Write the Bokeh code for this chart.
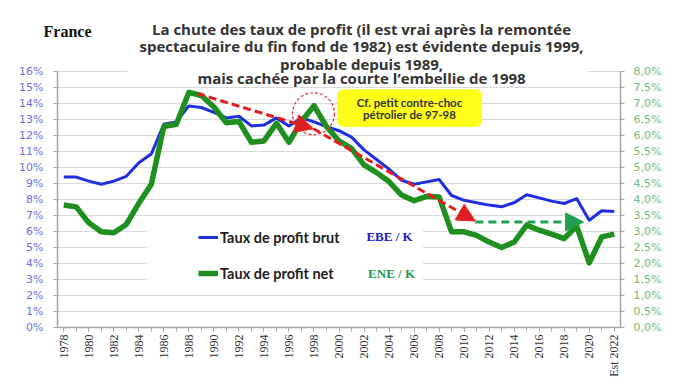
from bokeh.plotting import figure
from bokeh.models import (Range1d, LinearAxis, FixedTicker, CustomJSTickFormatter, Label,
                          Arrow, NormalHead, BoxAnnotation, Legend, LegendItem)
from bokeh.embed import file_html
from bokeh.resources import INLINE

years = list(range(1978, 2023))
brut = [9.4, 9.4, 9.15, 8.95, 9.15, 9.45, 10.3, 10.85, 12.7, 12.85,
        13.85, 13.75, 13.45, 13.1, 13.2, 12.6, 12.65, 13.1, 12.6, 13.1,
        12.85, 12.55, 12.3, 11.9, 11.1, 10.5, 9.9, 9.2, 8.95, 9.1,
        9.25, 8.25, 7.95, 7.8, 7.65, 7.55, 7.8, 8.3, 8.1, 7.9,
        7.75, 8.05, 6.7, 7.3, 7.25]
net = [3.83, 3.77, 3.27, 2.99, 2.96, 3.22, 3.88, 4.48, 6.28, 6.35,
       7.35, 7.25, 6.89, 6.4, 6.44, 5.79, 5.83, 6.38, 5.79, 6.44,
       6.93, 6.28, 5.83, 5.6, 5.08, 4.84, 4.56, 4.14, 3.96, 4.1,
       4.08, 2.99, 2.99, 2.88, 2.67, 2.5, 2.67, 3.2, 3.04, 2.92,
       2.78, 3.17, 2.02, 2.83, 2.92]
left_ticks = list(range(0, 17))
right_ticks = [i * 0.5 for i in range(17)]
label_years = list(range(1978, 2023, 2))

title_lines = ["La chute des taux de profit (il est vrai après la remontée",
               "spectaculaire du fin fond de 1982) est évidente depuis 1999,",
               "probable depuis 1989,",
               "mais cachée par la courte l\u2019embellie de 1998"]

TOP = 22                       # frame starts 22px below the top of the canvas
Y_END = (327 - TOP) / 16.0     # 16 px per percentage point, 0% at y=327

p = figure(width=684, height=385, output_backend="svg", toolbar_location=None,
           x_range=Range1d(1977.5, 2022.5), y_range=Range1d(0, Y_END),
           min_border_left=57, min_border_right=64, min_border_top=TOP, min_border_bottom=58,
           outline_line_color=None)
p.extra_y_ranges = {"net": Range1d(0, Y_END / 2)}

# grid
p.xgrid.visible = False
p.ygrid.grid_line_color = "#d9d9d9"
p.ygrid.grid_line_width = 1
p.ygrid.ticker = FixedTicker(ticks=left_ticks)

# left axis
ya = p.yaxis[0]
ya.ticker = FixedTicker(ticks=left_ticks)
ya.bounds = (0, 16)
ya.formatter = CustomJSTickFormatter(code="return tick + '%';")
ya.major_label_text_color = "#6f6fd6"
ya.major_label_text_font = "DejaVu Sans"
ya.major_label_text_font_size = "11px"
ya.axis_line_color = "#a6a6a6"
ya.axis_line_width = 1.5
ya.major_tick_line_color = "#a6a6a6"
ya.major_tick_out = 4
ya.major_tick_in = 0
ya.minor_tick_line_color = None
ya.major_label_standoff = 10

# right axis
ra = LinearAxis(y_range_name="net", ticker=FixedTicker(ticks=right_ticks), bounds=(0, 8),
                formatter=CustomJSTickFormatter(code="return tick.toFixed(1).replace('.', ',') + '%';"))
ra.major_label_text_color = "#79b879"
ra.major_label_text_font = "DejaVu Sans"
ra.major_label_text_font_size = "11px"
ra.axis_line_color = "#a6a6a6"
ra.axis_line_width = 1.5
ra.major_tick_line_color = "#a6a6a6"
ra.major_tick_out = 4
ra.major_tick_in = 0
ra.minor_tick_line_color = None
ra.major_label_standoff = 9
p.add_layout(ra, "right")

# bottom axis
xa = p.xaxis[0]
xa.ticker = FixedTicker(ticks=label_years, minor_ticks=years)
xa.formatter = CustomJSTickFormatter(code="return tick == 2022 ? 'Est 2022' : String(tick);")
xa.major_label_orientation = 3.14159265 / 2
xa.major_label_text_color = "#333333"
xa.major_label_text_font = "Liberation Sans Narrow"
xa.major_label_text_font_size = "12px"
xa.axis_line_color = "#a6a6a6"
xa.axis_line_width = 1.5
xa.major_tick_line_color = "#a6a6a6"
xa.minor_tick_line_color = "#a6a6a6"
xa.major_tick_out = 4
xa.major_tick_in = 0
xa.minor_tick_out = 4
xa.minor_tick_in = 0
xa.major_label_standoff = 3

# white backgrounds behind title and legend (hide gridlines)
p.add_layout(BoxAnnotation(left=1983.1, right=2019.9, bottom=15.5, top=16.5,
                           fill_color="white", fill_alpha=1, line_color=None, level="underlay"))
p.add_layout(BoxAnnotation(left=1984.7, right=2006.7, bottom=2.2, top=6.59,
                           fill_color="white", fill_alpha=1, line_color=None, level="underlay"))

# data lines
rb = p.line(years, brut, line_color="#1f2fe0", line_width=3, line_join="round")
rn = p.line(years, net, y_range_name="net", line_color="#1f8f1f", line_width=5.5, line_join="round")

# annotation box
p.add_layout(BoxAnnotation(left=1999.88, right=2011.4, bottom=12.55, top=14.87,
                           fill_color="#ffff1a", fill_alpha=1, line_color="#f0e000",
                           border_radius=6))
for txt, yy in [("Cf. petit contre-choc", 14.07), ("pétrolier de 97-98", 13.3)]:
    p.add_layout(Label(x=2005.64, y=yy, text=txt, text_align="center", text_baseline="middle",
                       text_font="Lato", text_font_style="bold", text_font_size="11.5px",
                       text_color="#333333"))

# dashed circle
p.scatter([1997.96], [13.36], marker="circle", size=42, fill_color=None,
          line_color="#e03030", line_dash="3 2", line_width=1.2)

# arrows
red = "#e02020"
p.add_layout(Arrow(x_start=1988.67, y_start=14.62, x_end=1997.96, y_end=12.42,
                   line_color=red, line_width=3, line_dash="8 4",
                   end=NormalHead(size=18, fill_color=red, line_color=red)))
p.add_layout(Arrow(x_start=1997.96, y_start=12.42, x_end=2010.9, y_end=6.65,
                   line_color=red, line_width=3, line_dash="8 4",
                   end=NormalHead(size=18, fill_color=red, line_color=red)))
grn = "#22a050"
p.add_layout(Arrow(x_start=2010.9, y_start=6.6, x_end=2019.55, y_end=6.6,
                   line_color=grn, line_width=3, line_dash="8 5",
                   end=NormalHead(size=18, fill_color=grn, line_color=grn)))

# legend
leg = Legend(items=[LegendItem(label="Taux de profit brut", renderers=[rb]),
                    LegendItem(label="Taux de profit net", renderers=[rn])],
             location=(141, 44), orientation="vertical",
             background_fill_alpha=0, border_line_color=None, padding=0, margin=0,
             spacing=16, glyph_width=20, glyph_height=20, label_height=20,
             label_standoff=2, label_text_font="Lato", label_text_font_style="bold",
             label_text_font_size="14.5px", label_text_color="#222222")
p.add_layout(leg)

p.add_layout(Label(x=2004.04, y=5.71, text="EBE / K", text_align="center", text_baseline="middle",
                   text_font="Liberation Serif", text_font_style="bold", text_font_size="13px",
                   text_color="#2020c8"))
p.add_layout(Label(x=2004.2, y=3.39, text="ENE / K", text_align="center", text_baseline="middle",
                   text_font="Liberation Serif", text_font_style="bold", text_font_size="13px",
                   text_color="#1f9a50"))

# "France" sits left of the frame: keep it in the panel above so it is not clipped
p.add_layout(Label(x=1978.3, y=18.53, text="France", text_align="center", text_baseline="middle",
                   text_font="Liberation Serif", text_font_style="bold", text_font_size="16px",
                   text_color="#111111"), "above")
for txt, yy in zip(title_lines, [18.63, 17.59, 16.5, 15.6]):
    p.add_layout(Label(x=2001.8, y=yy, text=txt, text_align="center", text_baseline="middle",
                       text_font="Open Sans", text_font_style="bold", text_font_size="15px",
                       text_color="#333333"))

open("out.html", "w").write(file_html(p, INLINE))
